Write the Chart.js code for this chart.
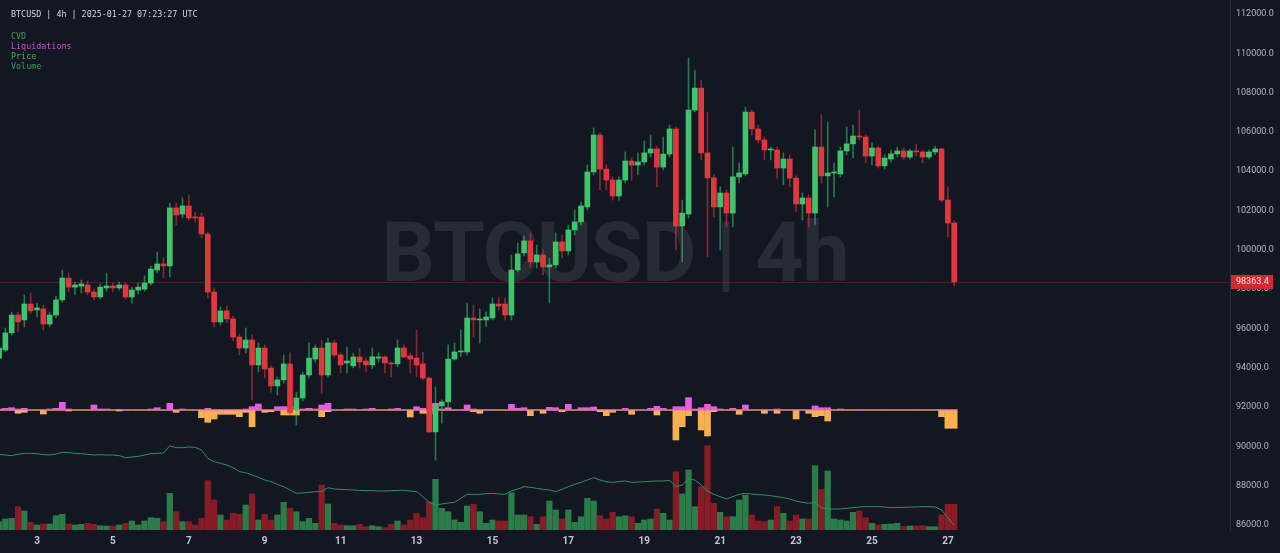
<!DOCTYPE html>
<html>
<head>
<meta charset="utf-8">
<title>BTCUSD 4h</title>
<script src="https://cdn.jsdelivr.net/npm/chart.js@4.4.1/dist/chart.umd.min.js"></script>
<style>
    html, body { margin: 0; padding: 0; background: #131722; }
    #wrap { position: relative; width: 1280px; height: 553px; overflow: hidden; }
    #mark {
        position: absolute; left: 0; width: 1230px; top: 211px;
        text-align: center; white-space: pre;
        font: bold 84px Roboto, sans-serif; line-height: 84px; color: #272b36;
        letter-spacing: -1px;
    }
    #chart { position: absolute; left: 0; top: 0; }
    .info { position: absolute; left: 11px; font: 8.4px 'DejaVu Sans Mono', monospace; line-height: 10px; white-space: pre; }
    #title { top: 9px; color: #d1d4dc; }
    #legend { top: 31px; }
</style>
</head>
<body>
<div id="wrap">
    <div id="mark">BTCUSD | 4h</div>
    <canvas id="chart" width="1280" height="553"></canvas>
    <div class="info" id="title">BTCUSD | 4h | 2025-01-27 07:23:27 UTC</div>
    <div class="info" id="legend"><span style="color:#3f9a55">CVD</span>
<span style="color:#c850d2">Liquidations</span>
<span style="color:#4caf5a">Price</span>
<span style="color:#3a9a5a">Volume</span></div>
</div>
<script>
// 4h candles, index 0 = 2025-01-02 00:00 UTC
const opens = [94490,94900,95770,96680,96430,97240,96940,96990,96220,96680,
    97450,98560,98100,98150,98210,97850,97600,98060,98160,98060,
    98210,97600,97950,98000,98310,98970,99280,99180,102130,101820,
    102230,101670,101670,100800,97850,96330,96890,96480,95560,95000,
    95410,94140,95000,93980,93070,93380,94190,91850,92460,93630,
    94440,95000,93630,95260,94650,94240,94090,94550,94340,94140,
    94490,94550,94240,94190,95000,94600,94490,94190,93470,90730,
    92050,92260,94440,94800,94800,96530,96430,96430,96530,97240,
    97240,96680,98970,99840,100450,99380,99740,99130,99230,100400,
    99940,101010,101420,102180,103960,105840,104110,103550,102740,103550,
    104520,104310,104470,104930,105130,104210,104870,106150,101210,101820,
    107110,108230,104930,103660,102180,102890,101870,103710,103860,107010,
    106150,105590,105080,105080,104160,104620,103650,102330,102640,101870,
    105230,103760,103910,103860,105030,105390,105790,105740,104770,105180,
    104270,104620,104880,105030,104720,105030,104980,104720,104980,105130,
    102530,101360];
const highs = [95100,96020,96830,96830,97700,97800,97290,97190,96830,97650,
    98970,98820,98360,98460,98410,98000,98260,98820,98310,98360,
    98310,98100,98310,98670,99170,99890,99580,102380,102380,102640,
    102790,101920,101870,100910,98060,97090,97140,96630,95710,96020,
    95670,95260,95160,94090,93530,94650,94750,92760,93780,95260,
    95160,95410,95510,95410,94750,95050,94750,95000,94490,95000,
    94750,94600,94290,95410,95160,94750,95920,94800,93530,93020,
    92360,95160,95260,95920,97290,97190,96990,96840,97550,97600,
    97550,99740,100340,100700,100860,100240,99990,99580,100860,100750,
    101260,102030,102430,104320,106200,105940,104320,103710,103710,104980,
    104670,104930,105540,105840,105280,105740,106350,106250,102530,109760,
    109150,108640,107010,103810,103200,103040,105230,104420,107260,107110,
    106350,105740,105230,105230,104930,104830,103760,102890,102790,106100,
    106860,106500,104420,105230,106250,106350,107110,105840,105440,105280,
    104830,105080,105230,105190,105130,105380,105080,105080,105280,105180,
    103200,101470];
const lows = [94290,94800,95660,95820,96070,96780,96580,95920,96070,96530,
    97340,97850,97700,97800,97700,97450,97500,97900,97900,97950,
    97500,97290,97750,97900,98210,98820,98570,98620,101260,101620,
    101520,101410,100600,97550,96070,96170,96280,95360,94650,94750,
    92360,93780,93480,92760,92610,93220,91590,91080,92310,93480,
    94290,92710,93530,94540,93730,93730,93990,93990,93780,93940,
    94290,93730,93530,94040,94500,93730,93530,93380,90700,89300,
    91180,92000,94390,94550,94650,95560,95260,96070,96430,96940,
    96430,96430,98870,99680,99120,99080,98720,97290,99080,99580,
    99740,100750,101260,102030,103810,103040,103040,102530,102530,103400,
    103550,103810,104310,104720,103200,104060,104720,99990,99380,101620,
    107010,104570,99640,101670,99990,101160,101160,103400,103760,105840,
    105440,104570,104570,103650,103300,103200,101930,101520,101160,101260,
    103400,102180,102690,103710,104830,104670,105590,104420,104320,104160,
    104110,104470,104720,104570,104620,104780,104420,104620,104830,102430,
    100650,98150];
const closes = [95000,95770,96680,96330,97240,96890,97040,96220,96680,97450,
    98560,98100,98210,98260,97850,97600,98100,98160,98060,98210,
    97600,97950,98100,98310,99020,99280,99180,102130,101770,102230,
    101620,101620,100800,97850,96330,96890,96480,95560,95000,95410,
    94140,95000,93930,93070,93380,94190,91700,92460,93630,94490,
    95000,93630,95260,94650,94140,94340,94550,94290,94140,94550,
    94550,94240,94190,95000,94550,94440,94140,93470,90730,92100,
    92260,94440,94800,94850,96530,96430,96480,96580,97240,97140,
    96680,98970,99790,100450,99380,99740,99130,99230,100400,99940,
    101010,101420,102230,103960,105840,104110,103550,102740,103550,104520,
    104310,104470,104930,105130,104210,104870,106150,101210,101870,107110,
    108230,104930,103660,102180,102890,101870,103710,103910,107010,106150,
    105590,105080,105130,104160,104620,103650,102330,102640,101870,105230,
    103760,103910,103960,105030,105390,105790,105740,104770,105180,104270,
    104670,104880,105030,104720,105030,104980,104720,104980,105130,102530,
    101360,98363.4];
// BTC traded per candle
const volumes = [830,1100,1170,2330,1900,770,500,600,600,1430,
    1570,600,500,570,670,570,430,400,400,500,
    670,900,500,900,1230,1170,830,3670,1830,830,
    830,500,1170,4930,3000,1500,1000,1670,1570,2500,
    3600,1000,1570,1000,1500,2770,2170,1830,830,1170,
    670,4500,2600,670,500,430,430,570,330,430,
    330,230,570,900,500,1000,1670,1230,2830,5070,
    2170,1830,1000,770,2400,2570,1830,670,1000,900,
    900,3730,1500,1500,1330,570,1330,2900,2000,1100,
    2000,770,1330,3170,2900,1430,1100,1770,1330,1430,
    1330,670,1000,1100,2100,1670,1000,5830,3600,6000,
    2330,4330,8430,2670,1770,1330,1330,3000,3500,1500,
    900,830,1000,2330,1670,900,1500,1100,1100,6430,
    4070,5900,1100,1000,900,1770,1900,1230,670,500,
    570,600,670,330,400,400,430,330,330,1500,
    2570,2570];
// liquidations, $M (shorts up, longs down)
const liqShorts = [1,1.7,2.3,1,1.7,0.4,0.4,0.4,1,1.7,
    7.7,1,0.4,0.4,0.4,5,1,1,0.4,0.7,
    0.4,0.4,0.4,0.4,1,2.3,0.4,6.7,0.4,1,
    0.4,0.4,0.4,1.7,0.4,0.4,0.4,0.4,0.4,1,
    3.3,6,0.4,0.4,3.3,3.3,3.3,0.4,1,1.7,
    1,5,6.7,0.4,0.4,1,1,0.4,1,1.7,
    0.4,0.4,1,1.7,0.4,0.4,3.3,1.7,0.4,6.7,
    1,2.3,0.4,0.4,5,1,0.4,0.4,0.4,0.4,
    0.4,5.7,1.7,2.3,0.4,0.4,0.4,2.7,2.3,0.4,
    5.7,0.4,2.3,2.3,3,0.4,0.4,0.4,0.4,1.7,
    0.4,0.4,0.4,1.7,3.7,1.7,0.4,3.3,3.3,12.3,
    1,2.3,5.7,3.3,1,0.4,1.7,0.4,5,0.4,
    0.4,0.4,0.4,1,0.4,0.4,0.4,0.4,0.4,4,
    2.3,2.3,0.4,1,0.4,0.4,0.4,0.4,0.4,0.4,
    0.4,0.4,0.4,0.4,0.4,0.4,0.4,0.4,0.4,0.4,
    0.4,0.4];
const liqLongs = [0.3,0.3,0.3,3.3,2.3,0.3,0.3,4,0.3,0.3,
    0.3,1,0.3,0.3,0.3,0.3,0.3,0.3,0.3,1,
    0.3,0.3,0.3,0.3,0.3,0.3,0.3,0.3,2.3,0.3,
    0.3,0.3,7.7,12.3,9,4.3,4.3,4.3,6.7,2.3,
    16.7,0.3,2.3,1.7,0.3,5,5,5,0.3,0.3,
    0.3,6.7,1.7,0.3,0.3,0.3,0.3,0.3,0.3,0.3,
    0.3,0.3,0.3,0.3,0.3,7,0.3,3.3,4,0.3,
    0.3,0.3,0.3,0.3,0.3,1.7,3.3,0.3,0.3,0.3,
    0.3,0.3,0.3,0.3,5.7,0.3,3.3,0.3,0.3,1.7,
    0.3,0.3,0.3,0.3,0.3,1.7,5.7,2.3,0.3,0.3,
    4.3,0.3,0.3,0.3,5,0.3,0.3,30,16.7,5.7,
    0.3,20,26,1.7,0.3,0.3,0.3,4.3,0.3,0.3,
    0.3,3.3,0.3,3.3,0.3,0.3,9,0.3,3.3,6.7,
    5.7,11,0.3,0.3,0.3,0.3,0.3,0.3,0.3,0.3,
    0.3,0.3,0.3,0.3,0.3,0.3,0.3,0.3,0.3,6.7,
    18.3,18.3];
// cumulative volume delta, BTC
const cvd = [660,600,540,660,750,750,720,630,600,690,
    840,810,750,720,660,600,630,600,600,540,
    360,420,480,600,720,750,780,1440,1260,1260,
    1320,1290,1050,300,0,-150,-300,-540,-900,-990,
    -1200,-1410,-1650,-1800,-2040,-2250,-2550,-2850,-2820,-2760,
    -2700,-2700,-2340,-2460,-2490,-2520,-2550,-2580,-2610,-2610,
    -2640,-2640,-2610,-2580,-2580,-2640,-2700,-3150,-3660,-3900,
    -3810,-3720,-3660,-3300,-2940,-2940,-2940,-2880,-2850,-2910,
    -2940,-2640,-2460,-2250,-2310,-2400,-2490,-2550,-2700,-2490,
    -2250,-2040,-1860,-1650,-1440,-1650,-1800,-1860,-1800,-1740,
    -1860,-1830,-1800,-1770,-1740,-1740,-1680,-2250,-2100,-1560,
    -1650,-2100,-2640,-2940,-3150,-3360,-3150,-2940,-2850,-2910,
    -2970,-3000,-3060,-3150,-3240,-3360,-3540,-3660,-3750,-3660,
    -4140,-4260,-4260,-4260,-4200,-4140,-4080,-4050,-4050,-4050,
    -4080,-4140,-4110,-4110,-4080,-4080,-4050,-4050,-4080,-4350,
    -5040,-5760];

// axis ticks
const priceTicks = [86000,88000,90000,92000,94000,96000,98000,100000,102000,104000,106000,108000,110000,112000];
const dayTickIdx = [6,18,30,42,54,66,78,90,102,114,126,138,150];
const dayLabels = ['3','5','7','9','11','13','15','17','19','21','23','25','27'];

const GREEN = '#3ec46d', RED = '#e0383e';
const isUp = i => closes[i] >= opens[i];
const idx = opens.map((_, i) => i);
const lastClose = closes[closes.length - 1];

// last price line + label on the axis
const lastPricePlugin = {
    id: 'lastPrice',
    beforeDatasetsDraw(chart) {
        const { ctx, chartArea } = chart;
        const y = Math.round(chart.scales.y.getPixelForValue(lastClose)) + 0.5;
        ctx.save();
        ctx.strokeStyle = 'rgba(150, 36, 48, 0.45)';
        ctx.lineWidth = 1;
        ctx.beginPath();
        ctx.moveTo(chartArea.left, y);
        ctx.lineTo(chartArea.right, y);
        ctx.stroke();
        ctx.restore();
    },
    afterDraw(chart) {
        const { ctx, chartArea } = chart;
        const y = chart.scales.y.getPixelForValue(lastClose);
        ctx.save();
        ctx.fillStyle = '#d5282f';
        ctx.fillRect(chartArea.right + 1, y - 7, 42, 14);
        ctx.fillStyle = '#ffe3e3';
        ctx.font = '9px Roboto';
        ctx.textBaseline = 'middle';
        ctx.fillText(lastClose.toFixed(1), chartArea.right + 6, y);
        ctx.restore();
    }
};

new Chart(document.getElementById('chart'), {
    type: 'bar',
    data: {
        datasets: [
            {
                label: 'Price',
                data: idx.map(i => ({ x: i, y: [opens[i], closes[i]] })),
                backgroundColor: c => isUp(c.dataIndex) ? GREEN : RED,
                barThickness: 5,
                minBarLength: 1,
                grouped: false,
                yAxisID: 'y',
                order: 1
            },
            {
                label: 'Wicks',
                data: idx.map(i => ({ x: i, y: [lows[i], highs[i]] })),
                backgroundColor: c => isUp(c.dataIndex) ? 'rgba(62,196,109,0.55)' : 'rgba(224,56,62,0.55)',
                barThickness: 1,
                grouped: false,
                yAxisID: 'y',
                order: 2
            },
            {
                label: 'Liquidations',
                data: idx.map(i => ({ x: i, y: liqShorts[i] })),
                backgroundColor: '#e35ee6',
                barThickness: 6,
                grouped: false,
                yAxisID: 'yLiq',
                order: 3
            },
            {
                label: 'Liquidations longs',
                data: idx.map(i => ({ x: i, y: -liqLongs[i] })),
                backgroundColor: '#fbb04e',
                barThickness: 6,
                grouped: false,
                yAxisID: 'yLiq',
                order: 3
            },
            {
                type: 'line',
                label: 'CVD',
                data: idx.map(i => ({ x: i, y: cvd[i] })),
                borderColor: '#2f8f5e',
                borderWidth: 1,
                pointRadius: 0,
                tension: 0,
                yAxisID: 'yCvd',
                order: 4
            },
            {
                label: 'Volume',
                data: idx.map(i => ({ x: i, y: volumes[i] })),
                backgroundColor: c => isUp(c.dataIndex) ? '#2c7c4a' : '#871c27',
                barThickness: 5.6,
                grouped: false,
                yAxisID: 'yVol',
                order: 5
            }
        ]
    },
    options: {
        responsive: false,
        animation: false,
        layout: { padding: 0 },
        plugins: { legend: { display: false }, tooltip: { enabled: false } },
        scales: {
            x: {
                type: 'linear',
                min: 0.151,
                max: 194.6,
                offset: false,
                grid: { display: false, drawTicks: false },
                border: { display: false },
                afterBuildTicks: s => { s.ticks = dayTickIdx.map(v => ({ value: v })); },
                ticks: {
                    autoSkip: false,
                    maxRotation: 0,
                    padding: 5,
                    color: '#c3c6ce',
                    font: { family: 'Roboto', size: 10, weight: 'bold' },
                    callback: v => dayLabels[dayTickIdx.indexOf(v)]
                },
                afterFit: s => { s.height = 23; s.paddingLeft = 0; s.paddingRight = 0; }
            },
            y: {
                position: 'right',
                min: 85740,
                max: 112712,
                grid: { display: false, drawTicks: false },
                border: { display: true, color: '#2a2e39' },
                afterBuildTicks: s => { s.ticks = priceTicks.map(v => ({ value: v })); },
                ticks: {
                    padding: 6,
                    color: '#b2b5be',
                    font: { family: 'Roboto', size: 9 },
                    callback: v => v.toFixed(1)
                },
                afterFit: s => { s.width = 50; s.paddingTop = 0; s.paddingBottom = 0; }
            },
            yVol: { display: false, min: 0, max: 53000 },
            yLiq: { display: false, min: -120, max: 410 },
            yCvd: { display: false, min: -6150, max: 41550 }
        }
    },
    plugins: [lastPricePlugin]
});
</script>
</body>
</html>
